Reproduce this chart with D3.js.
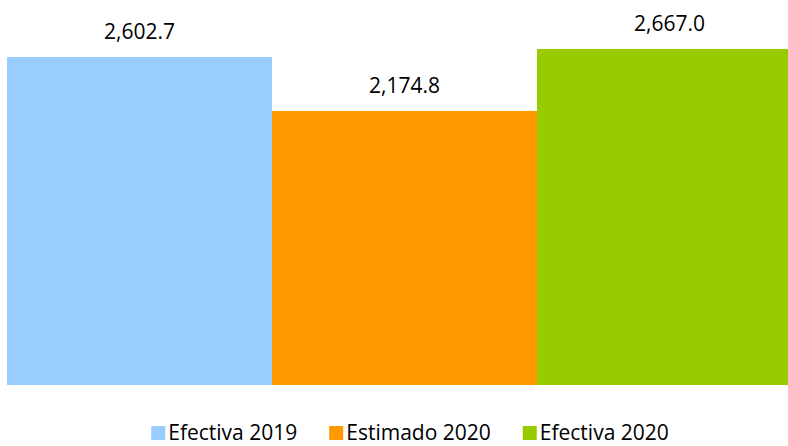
<!DOCTYPE html>
<html lang="es">
<head>
    <meta charset="UTF-8">
    <title>Efectiva vs Estimado</title>
    <script src="https://d3js.org/d3.v7.min.js"></script>
    <style>
        body { margin: 0; background: #fff; }
        svg { display: block; overflow: hidden; }
        text { font-family: "Open Sans", sans-serif; fill: #000; }
    </style>
</head>
<body>
<div id="chart"></div>
<script>
// datos del grafico
var categories = ["Efectiva 2019", "Estimado 2020", "Efectiva 2020"];
var values = [2602.7, 2174.8, 2667.0];
var colors = ["#99CCFF", "#FF9900", "#99CC00"];

var width = 788, height = 446;

var svg = d3.select("#chart").append("svg")
    .attr("width", width)
    .attr("height", height);

// the last bar runs past the right edge, like the original
var x = d3.scaleBand()
    .domain(categories)
    .range([7, 802])
    .padding(0);

var y = d3.scaleLinear()
    .domain([0, 3000])
    .range([385, 7]);

var fmt = d3.format(",.1f");

svg.selectAll("rect.bar")
    .data(categories)
    .enter().append("rect")
    .attr("class", "bar")
    .attr("x", function(d) { return x(d); })
    .attr("width", x.bandwidth())
    .attr("y", function(d, i) { return y(values[i]); })
    .attr("height", function(d, i) { return y(0) - y(values[i]); })
    .attr("fill", function(d, i) { return colors[i]; });

// value labels above each bar
svg.selectAll("text.lbl")
    .data(categories)
    .enter().append("text")
    .attr("class", "lbl")
    .attr("x", function(d) { return x(d) + x.bandwidth() / 2; })
    .attr("y", function(d, i) { return y(values[i]) - 18; })
    .attr("text-anchor", "middle")
    .style("font-size", "21px")
    .text(function(d, i) { return fmt(values[i]); });

// legend, laid out from measured text widths
var legend = svg.append("g");
var items = legend.selectAll("g")
    .data(categories)
    .enter().append("g");

items.append("rect")
    .attr("width", 14)
    .attr("height", 14)
    .attr("y", 426)
    .attr("fill", function(d, i) { return colors[i]; });

items.append("text")
    .attr("x", 17)
    .attr("y", 440)
    .style("font-size", "21px")
    .text(function(d) { return d; });

var pos = 0;
items.each(function() {
    var w = d3.select(this).select("text").node().getComputedTextLength();
    d3.select(this).attr("transform", "translate(" + pos + ",0)");
    pos += 17 + w + 32;
});
var total = pos - 32;
legend.attr("transform", "translate(" + (410 - total / 2) + ",0)");
</script>
</body>
</html>
